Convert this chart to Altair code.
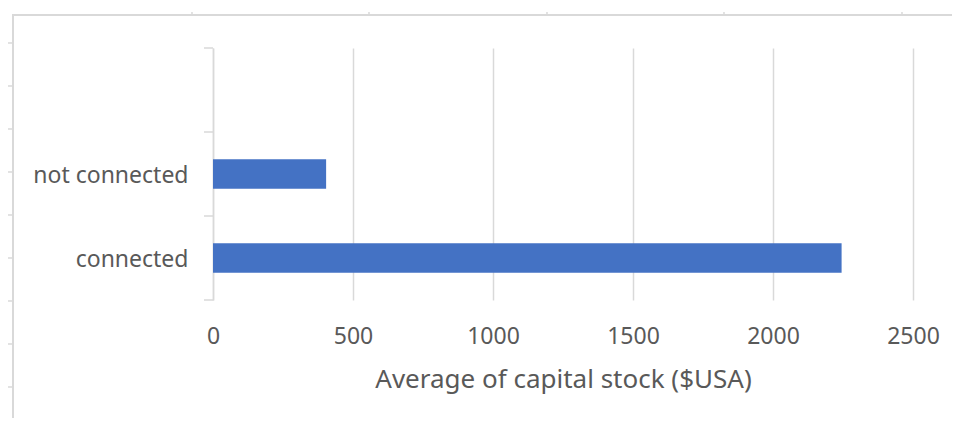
import altair as alt
import pandas as pd

categories = ["not connected", "connected"]
avg_capital = [404, 2245]
axis_domain = ["", "not connected", "connected"]
x_ticks = [0, 500, 1000, 1500, 2000, 2500]

df = pd.DataFrame({"category": categories, "value": avg_capital})
bounds = pd.DataFrame({"category": axis_domain})
last = pd.DataFrame({"category": [axis_domain[-1]]})

GRID = "#d9d9d9"
TEXT = "#595959"
FONT = "Noto Sans"

yscale = alt.Scale(domain=axis_domain, paddingInner=0, paddingOuter=0)
yaxis = alt.Axis(title=None, ticks=False, domain=True, domainColor=GRID,
                 domainWidth=1.5, grid=False,
                 labelFont=FONT, labelFontSize=23, labelColor=TEXT,
                 labelPadding=25, labelOffset=2)

bars = alt.Chart(df).mark_bar(color="#4472C4", height=alt.RelativeBandSize(0.35)).encode(
    x=alt.X("value:Q",
            scale=alt.Scale(domain=[0, 2500], nice=False),
            axis=alt.Axis(values=x_ticks, format="d", title="Average of capital stock ($USA)",
                          grid=True, gridColor=GRID, gridWidth=1.5,
                          domain=False, ticks=False, labelFlush=False,
                          labelFont=FONT, labelFontSize=23, labelColor=TEXT, labelPadding=25,
                          titleFont=FONT, titleFontSize=26, titleColor=TEXT,
                          titleFontWeight="normal", titlePadding=18)),
    y=alt.Y("category:N", scale=yscale, axis=yaxis),
)

tick_rules = alt.Chart(bounds).mark_rule(color=GRID, strokeWidth=1.5).encode(
    y=alt.Y("category:N", scale=yscale, bandPosition=0, axis=yaxis),
    x=alt.value(-9), x2=alt.value(0),
)
tick_last = alt.Chart(last).mark_rule(color=GRID, strokeWidth=1.5).encode(
    y=alt.Y("category:N", scale=yscale, bandPosition=1, axis=yaxis),
    x=alt.value(-9), x2=alt.value(0),
)

# outer frame decoration (pixel offsets relative to plot area)
frame_layers = [
    alt.Chart(df).mark_rule(color=GRID, strokeWidth=2).encode(
        x=alt.value(-200), y=alt.value(-33), y2=alt.value(400)),
    alt.Chart(df).mark_rule(color=GRID, strokeWidth=2).encode(
        x=alt.value(-201), x2=alt.value(760), y=alt.value(-33)),
]
for yy in [-5, 38, 81, 124, 167, 210, 253, 296, 339]:
    frame_layers.append(alt.Chart(df).mark_rule(color=GRID, strokeWidth=1).encode(
        x=alt.value(-205), x2=alt.value(-200), y=alt.value(yy)))
for xx in [-21, 156, 334, 511, 689]:
    frame_layers.append(alt.Chart(df).mark_rule(color=GRID, strokeWidth=1).encode(
        x=alt.value(xx), y=alt.value(-36), y2=alt.value(-33)))

chart = alt.layer(*frame_layers, bars, tick_rules, tick_last).properties(
    width=700, height=252,
    autosize=alt.AutoSizeParams(type="none"),
    padding={"left": 205, "top": 40, "right": 39, "bottom": 118},
    background="white",
).configure_view(stroke=None)

chart.save("out.html", embed_options={"renderer": "svg", "actions": False})
